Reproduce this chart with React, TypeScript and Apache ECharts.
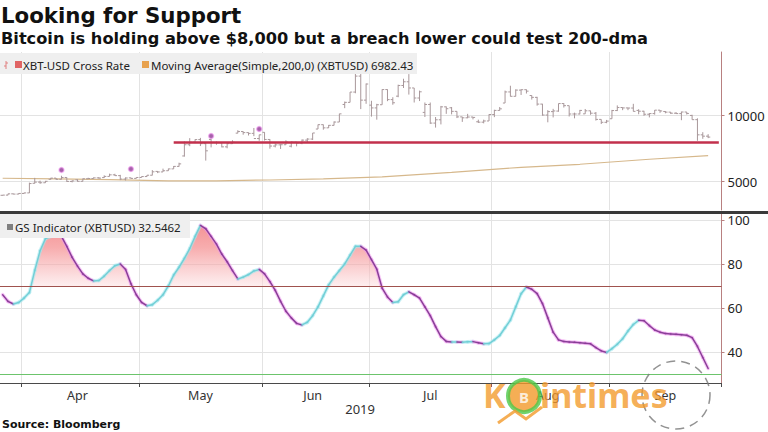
import React, { useEffect, useRef } from "react";
import * as echarts from "echarts";

// ---------- DATA ----------
const titleText = "Looking for Support";
const subtitleText = "Bitcoin is holding above $8,000 but a breach lower could test 200-dma";
const sourceText = "Source: Bloomberg";
const legendPrice = "XBT-USD Cross Rate";
const legendMA = "Moving Average(Simple,200,0) (XBTUSD) 6982.43";
const legendGS = "GS Indicator (XBTUSD) 32.5462";
const yearLabel = "2019";

// weekday OHLC of XBT-USD, 2019-03-26 .. 2019-09-26
const open = [3970,3985,4080,4060,4110,4150,4880,4970,4920,5180,
5270,5180,5320,5020,5140,5030,5220,5240,5290,5310,
5400,5520,5460,5200,5290,5250,5320,5390,5490,5780,
5740,5830,5970,6160,6950,7800,7990,8190,7880,8200,
7960,7950,7640,7880,8680,8800,8720,8660,8270,8740,
8200,7700,7790,7800,7690,8000,7930,8150,8230,8990,
9320,9080,9270,9520,10850,11010,11790,13000,11180,10800,
10590,10830,11980,11220,11480,12290,12570,12100,11340,10250,
10850,9440,9690,10670,10600,10330,9910,9840,9900,9540,
9510,9600,10090,10400,10960,11800,11470,11940,11970,11530,
11390,10880,10050,10310,10350,10920,10760,10130,10130,10140,
10370,10190,9720,9500,9770,10390,10620,10590,10580,10400,
10340,10110,10160,10420,10320,10270,10190,10160,10280,10020,
9700,8550,8450];
const high = [3995,4090,4095,4125,4160,4930,5290,5080,5060,5290,
5280,5450,5330,5100,5180,5240,5300,5320,5350,5480,
5610,5600,5520,5330,5310,5330,5400,5500,5880,5810,
5990,5990,6190,6440,8050,8300,8210,8320,7950,8250,
8050,8000,7950,8140,8900,8810,8730,9070,8560,8750,
8220,7900,7850,8140,8050,8010,8200,8300,8690,9330,
9330,9300,9570,10150,11070,11790,13800,13300,12440,11130,
10900,12000,12000,11400,12350,12800,13150,12100,11900,11000,
11000,9900,10740,10700,10660,10330,9920,10140,9910,9700,
9700,10110,10450,10660,11900,12270,12000,11990,11990,11540,
11430,10900,10420,10520,10920,10950,10760,10230,10440,10510,
10380,10280,9720,9680,10440,10780,10630,10600,10900,10490,
10370,10200,10430,10430,10350,10280,10270,10310,10280,10070,
9800,8750,8600];
const low = [3945,3975,4045,4050,4095,4140,4860,4840,4915,5160,
5150,5170,4990,4950,5000,5020,5210,5235,5230,5290,
5400,5440,5120,5090,5220,5240,5320,5380,5480,5650,
5740,5820,5970,6140,6900,7690,7920,7700,6600,7600,
7800,7600,7530,7860,8670,8560,8500,8450,8100,8120,
7500,7600,7480,7790,7600,7680,7840,8000,8160,8990,
8940,9070,9260,9520,10570,11010,11700,10500,10900,9930,
9700,10830,11100,10830,11400,12100,11600,11000,11110,9900,
9380,9100,9340,10140,10100,9820,9530,9810,9720,9450,
9420,9600,9890,10380,10960,11450,11460,11570,11680,11220,
10760,10000,9500,9870,10300,10620,9940,9800,10100,10140,
10070,9630,9370,9430,9770,10350,10420,10420,10320,10110,
9990,9870,10080,10220,10180,10130,10140,9660,10090,9700,
8100,8250,8300];
const close = [3985,4080,4060,4110,4150,4860,4970,4920,5030,5270,
5180,5320,5020,5060,5030,5220,5240,5290,5270,5400,
5520,5460,5200,5280,5250,5320,5390,5490,5750,5740,
5830,5970,6160,6350,7800,7990,8190,7880,7340,7960,
7950,7640,7880,7990,8800,8720,8660,8270,8550,8200,
7700,7790,7800,8000,8000,7930,8150,8230,8690,9320,
9080,9270,9520,10140,11010,11790,13000,11180,12400,10590,
10830,11980,11220,10980,12290,12570,12100,11340,11810,10850,
9440,9690,10670,10530,10330,9910,9840,9900,9870,9510,
9600,10090,10400,10520,11800,11470,11940,11970,11860,11390,
10880,10050,10310,10360,10920,10760,10130,10130,10400,10370,
10190,9720,9500,9590,10390,10620,10590,10580,10330,10340,
10110,10160,10420,10360,10270,10190,10160,10280,10170,9700,
8550,8450,8380];

// 200-day simple moving average (sampled weekday index -> value)
const maIdx = [0, 10, 20, 31, 40, 50, 60, 71, 84, 97, 108, 121, 132];
const maVal = [5260, 5220, 5150, 5060, 5070, 5130, 5210, 5370, 5710, 6090, 6320, 6700, 6980];

// signal markers
const sigIdx = [11, 24, 39, 48];
const sigVal = [5890, 5960, 8460, 8990];

// support level
const supportLevel = 8000;
const supportFromIdx = 32;

// GS indicator per weekday
const gs = [66,63,61.8,62.5,64.5,67,77,86,91.5,92.5,
93,92.5,88,83,79,75.5,73.5,72.3,72.5,74.5,
77,79.2,80,77.5,71,66,62.5,61,61.5,63.5,
66,70,75,78.5,82.5,87,92.5,97.5,96,92.5,
89,84.5,81,77,73.2,74,75.2,76.8,77.5,75.5,
72,68,63,58.5,55.5,53,52.3,53.5,56.5,60.5,
65.5,70.5,74,77,80,84,88,88,86.3,82,
77.6,69,65,62.5,62.8,66,67.3,66,64.5,60.5,
56.5,51.5,47,44.8,44.5,44.5,44.4,44.6,44.7,44.2,
43.7,43.8,45.5,47.5,51,54.5,60.5,66.5,69.5,68.5,
66.5,62,55.5,49,45.5,44.8,44.5,44.4,44.2,44,
43.7,42,40.5,39.8,41.5,43.5,46,49.5,52.5,54.4,
54.2,52,50,49,48.4,48.2,48,47.8,47.6,46.5,
42.5,37.5,32.5];
const gsUpper = 70;
const gsLower = 30;

const priceTicks = [5000, 10000];
const gsTicks = [40, 60, 80, 100];
const monthNames = ["Jan","Feb","Mar","Apr","May","Jun","Jul","Aug","Sep","Oct","Nov","Dec"];

// weekday categories
function buildDates(): string[] {
  const out: string[] = [];
  const d = new Date(Date.UTC(2019, 2, 26));
  const end = Date.UTC(2019, 8, 30);
  while (d.getTime() <= end) {
    const wd = d.getUTCDay();
    if (wd !== 0 && wd !== 6) out.push(d.toISOString().slice(0, 10));
    d.setUTCDate(d.getUTCDate() + 1);
  }
  return out;
}
const dates = buildDates();
const monthOf = dates.map((s) => +s.slice(5, 7) - 1);
const monthStarts: number[] = [];
monthOf.forEach((m, i) => { if (i > 0 && m !== monthOf[i - 1]) monthStarts.push(i); });
const monthStartSet = new Set(monthStarts);
const labelAt = new Map<number, string>();
monthStarts.forEach((s, k) => {
  const e = k + 1 < monthStarts.length ? monthStarts[k + 1] : dates.length;
  labelAt.set(Math.floor((s + e - 1) / 2), monthNames[monthOf[s]]);
});

const FONT = '"Noto Sans", "DejaVu Sans", sans-serif';
const BOLD = '"DejaVu Sans", "Noto Sans", sans-serif';

export default function App() {
  const ref = useRef<HTMLDivElement>(null);
  useEffect(() => {
    if (!ref.current) return;
    const chart = echarts.init(ref.current, undefined, { renderer: "svg" });

    const ohlcData = open.map((o, i) => [i, o, high[i], low[i], close[i]]);
    const gsData = gs.map((v, i) => [i, v]);
    const isMonthStart = (i: number) => monthStartSet.has(i);

    const barColor = "#a8979a";
    const gridLineColor = "#e3e3e3";

    const segRender = (glow: boolean) => (params: any, api: any) => {
      const i = api.value(0);
      if (i === 0) return null;
      const p0 = api.coord([i - 1, gs[i - 1]]);
      const p1 = api.coord([i, gs[i]]);
      const up = gs[i] >= gs[i - 1];
      const stroke = glow
        ? (up ? "rgba(165,232,238,0.55)" : "rgba(238,150,238,0.55)")
        : (up ? "#72cfd6" : "#8a3f98");
      return {
        type: "line",
        shape: { x1: p0[0], y1: p0[1], x2: p1[0], y2: p1[1] },
        style: { stroke, lineWidth: glow ? 3.6 : 1.5, lineCap: "round" },
      };
    };

    const plainNum = (v: number) => String(v);
    const wm = 0.8;

    const option: any = {
      animation: false,
      backgroundColor: "#ffffff",
      textStyle: { fontFamily: FONT },
      grid: [
        { left: 0, right: 46.5, top: 52, height: 158, outerBoundsMode: "none" },
        { left: 0, right: 46.5, top: 214, height: 169, outerBoundsMode: "none" },
      ],
      xAxis: [
        {
          type: "category", gridIndex: 0, data: dates, boundaryGap: true,
          axisLine: { show: false }, axisTick: { show: false }, axisLabel: { show: false },
          splitLine: { show: true, interval: isMonthStart, lineStyle: { color: gridLineColor, width: 1 } },
        },
        {
          type: "category", gridIndex: 1, data: dates, boundaryGap: true,
          axisLine: { show: true, lineStyle: { color: "#4a4a4a", width: 1 } },
          axisTick: { show: true, interval: isMonthStart, length: 4, lineStyle: { color: "#4a4a4a" } },
          axisLabel: {
            show: true,
            interval: (i: number) => labelAt.has(i),
            formatter: (_v: string, i: number) => labelAt.get(i) || "",
            color: "#333", fontSize: 12.5, fontFamily: FONT, margin: 6,
          },
          splitLine: { show: true, interval: isMonthStart, lineStyle: { color: gridLineColor, width: 1 } },
        },
      ],
      yAxis: [
        {
          type: "value", gridIndex: 0, position: "right", min: 2856, max: 14826,
          axisLine: { show: true, lineStyle: { color: "#b88080" } },
          axisTick: { show: true, length: 3, customValues: priceTicks, lineStyle: { color: "#b88080" } },
          axisLabel: { customValues: priceTicks, formatter: plainNum, color: "#222", fontSize: 13, fontFamily: FONT, margin: 6 },
          splitLine: { show: true, lineStyle: { color: gridLineColor } },
        },
        {
          type: "value", gridIndex: 1, position: "right", min: 25.9, max: 102.7,
          axisLine: { show: true, lineStyle: { color: "#b88080" } },
          axisTick: { show: true, length: 3, customValues: gsTicks, lineStyle: { color: "#b88080" } },
          axisLabel: { customValues: gsTicks, formatter: plainNum, color: "#222", fontSize: 13, fontFamily: FONT, margin: 6 },
          splitLine: { show: true, lineStyle: { color: gridLineColor } },
        },
      ],
      series: [
        {
          type: "line", name: "MA", xAxisIndex: 0, yAxisIndex: 0,
          data: maIdx.map((x, k) => [x, maVal[k]]),
          showSymbol: false, symbol: "none",
          lineStyle: { color: "#d6b88c", width: 1.2 },
          z: 2,
          markLine: {
            silent: true, symbol: "none", label: { show: false },
            lineStyle: { color: "#c2304c", width: 2.6, type: "solid" },
            data: [[{ coord: [supportFromIdx, supportLevel] }, { coord: [dates.length - 1, supportLevel] }]],
          },
        },
        {
          type: "custom", name: "XBT", xAxisIndex: 0, yAxisIndex: 0,
          data: ohlcData, encode: { x: 0, y: [1, 2, 3, 4] }, clip: true, z: 3,
          renderItem: (params: any, api: any) => {
            const i = api.value(0);
            const o = api.coord([i, api.value(1)]);
            const h = api.coord([i, api.value(2)]);
            const l = api.coord([i, api.value(3)]);
            const c = api.coord([i, api.value(4)]);
            const w = api.size([1, 0])[0] * 0.4;
            const st = { stroke: barColor, lineWidth: 1 };
            return {
              type: "group",
              children: [
                { type: "line", shape: { x1: h[0], y1: h[1], x2: l[0], y2: l[1] }, style: st },
                { type: "line", shape: { x1: o[0] - w, y1: o[1], x2: o[0], y2: o[1] }, style: st },
                { type: "line", shape: { x1: c[0], y1: c[1], x2: c[0] + w, y2: c[1] }, style: st },
              ],
            };
          },
        },
        {
          type: "scatter", name: "signal", xAxisIndex: 0, yAxisIndex: 0,
          data: sigIdx.map((x, k) => [x, sigVal[k]]),
          symbol: "circle", symbolSize: 5, z: 4,
          itemStyle: { color: "#8e3a94", borderColor: "rgba(240,150,240,0.7)", borderWidth: 1.5 },
        },
        {
          type: "line", name: "GSfill", xAxisIndex: 1, yAxisIndex: 1,
          data: gsData, showSymbol: false, symbol: "none",
          lineStyle: { width: 0, opacity: 0 }, z: 1,
          areaStyle: {
            origin: "start",
            color: new echarts.graphic.LinearGradient(0, 214, 0, 383, [
              { offset: 0, color: "rgba(236,72,76,0.95)" },
              { offset: 0.2, color: "rgba(242,118,120,0.85)" },
              { offset: 0.425, color: "rgba(252,222,224,0.75)" },
              { offset: 0.428, color: "rgba(255,255,255,0)" },
              { offset: 1, color: "rgba(255,255,255,0)" },
            ], true),
          },
          markLine: {
            silent: true, symbol: "none", label: { show: false },
            data: [
              { yAxis: gsUpper, lineStyle: { color: "#a0524e", width: 1, type: "solid" } },
              { yAxis: gsLower, lineStyle: { color: "#6cc46c", width: 1, type: "solid" } },
            ],
          },
        },
        {
          type: "custom", name: "GSglow", xAxisIndex: 1, yAxisIndex: 1,
          data: gsData, encode: { x: 0, y: 1 }, z: 3, renderItem: segRender(true),
        },
        {
          type: "custom", name: "GS", xAxisIndex: 1, yAxisIndex: 1,
          data: gsData, encode: { x: 0, y: 1 }, z: 4, renderItem: segRender(false),
        },
      ],
      graphic: [
        { type: "text", x: 1, y: 15, z: 100, style: { text: titleText, font: `bold 21.3px ${BOLD}`, fill: "#111", verticalAlign: "middle" } },
        { type: "text", x: 1, y: 38, z: 100, style: { text: subtitleText, font: `bold 16.2px ${BOLD}`, fill: "#111", verticalAlign: "middle" } },
        { type: "rect", z: 100, shape: { x: 0, y: 53, width: 417, height: 21 }, style: { fill: "#efefef" } },
        { type: "line", z: 101, shape: { x1: 6, y1: 61, x2: 6, y2: 69 }, style: { stroke: "#e08080", lineWidth: 1 } },
        { type: "line", z: 101, shape: { x1: 4, y1: 66, x2: 6, y2: 66 }, style: { stroke: "#e08080", lineWidth: 1 } },
        { type: "line", z: 101, shape: { x1: 6, y1: 63, x2: 8, y2: 63 }, style: { stroke: "#e08080", lineWidth: 1 } },
        { type: "rect", z: 101, shape: { x: 15, y: 61, width: 7, height: 7 }, style: { fill: "#e06464" } },
        { type: "text", x: 23, y: 65, z: 101, style: { text: legendPrice, font: `11.5px ${FONT}`, fill: "#222", verticalAlign: "middle" } },
        { type: "rect", z: 101, shape: { x: 142, y: 61, width: 7, height: 7 }, style: { fill: "#e8a24e" } },
        { type: "text", x: 151, y: 65, z: 101, style: { text: legendMA, font: `11.5px ${FONT}`, fill: "#222", verticalAlign: "middle" } },
        { type: "rect", z: 100, shape: { x: 0, y: 214, width: 190, height: 24 }, style: { fill: "#efefef" } },
        { type: "rect", z: 101, shape: { x: 7, y: 224, width: 6, height: 6 }, style: { fill: "#808080" } },
        { type: "text", x: 15, y: 227.5, z: 101, style: { text: legendGS, font: `11.5px ${FONT}`, fill: "#222", verticalAlign: "middle" } },
        { type: "rect", z: 110, shape: { x: 0, y: 211, width: 768, height: 3 }, style: { fill: "#3a3a3a" } },
        { type: "text", x: 375, y: 409, z: 100, style: { text: yearLabel, font: `13px ${FONT}`, fill: "#333", align: "right", verticalAlign: "middle" } },
        { type: "text", x: 2, y: 424.5, z: 100, style: { text: sourceText, font: `bold 11px ${BOLD}`, fill: "#111", verticalAlign: "middle" } },
        // watermark
        { type: "circle", z: 90, shape: { cx: 676, cy: 395, r: 34 }, style: { fill: "none", stroke: "#777", lineWidth: 1.5, lineDash: [9, 6], opacity: wm } },
        { type: "text", x: 483, y: 395, z: 91, style: { text: "K", font: `bold 34px ${FONT}`, fill: "#f39a2b", verticalAlign: "middle", opacity: wm } },
        { type: "circle", z: 91, shape: { cx: 524, cy: 396, r: 16 }, style: { fill: "#f39a2b", stroke: "#4cc84a", lineWidth: 4, opacity: wm } },
        { type: "text", x: 524, y: 397, z: 92, style: { text: "B", font: `bold 15px ${FONT}`, fill: "#ffffff", align: "center", verticalAlign: "middle", opacity: wm } },
        { type: "text", x: 540, y: 395, z: 91, style: { text: "intimes", font: `bold 34px ${FONT}`, fill: "#f39a2b", verticalAlign: "middle", opacity: wm } },
        { type: "polyline", z: 91, shape: { points: [[498, 423], [515, 411], [526, 419], [542, 407]] }, style: { stroke: "#f39a2b", lineWidth: 3, fill: "none", opacity: wm } },
      ],
    };

    chart.setOption(option);
    return () => chart.dispose();
  }, []);

  return <div ref={ref} style={{ position: "absolute", left: 0, top: 0, width: 768, height: 432 }} />;
}
